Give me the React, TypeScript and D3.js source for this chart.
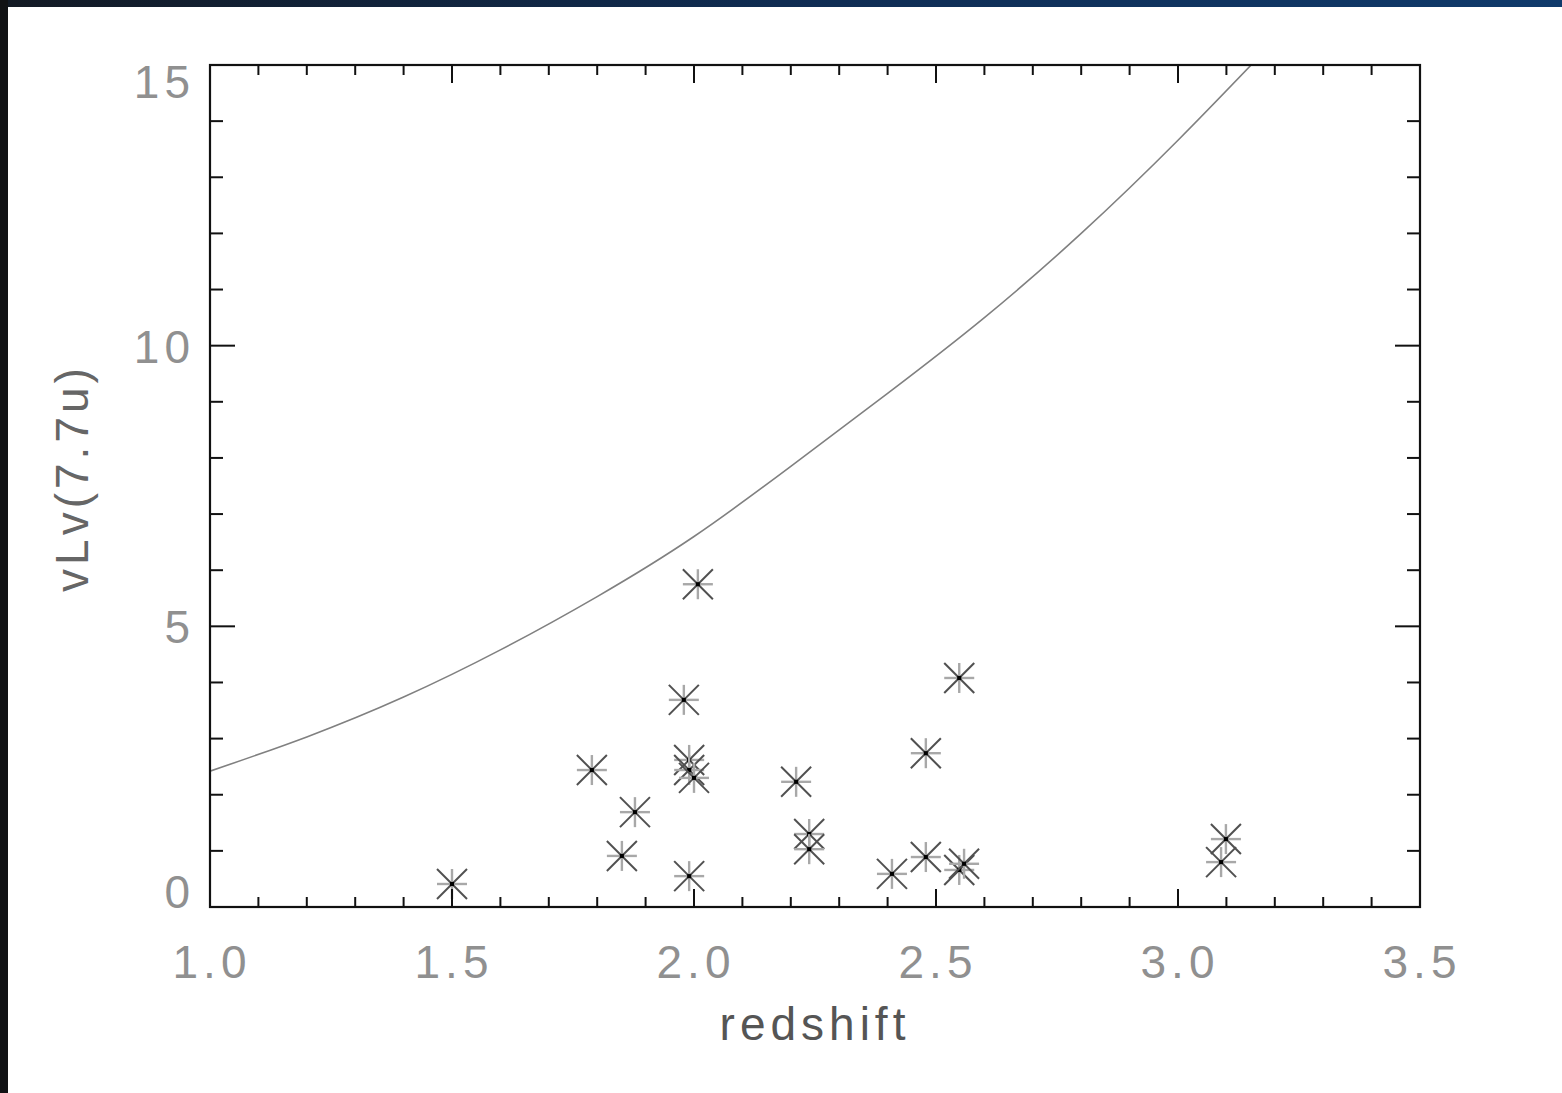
import React from "react";
import * as d3 from "d3";

// ---- data ----
const redshift = [1.5, 1.789, 1.851, 1.878, 1.979, 1.99, 1.99, 1.99, 2.0, 2.008, 2.211, 2.238, 2.238, 2.409, 2.479, 2.479, 2.548, 2.548, 2.558, 3.089, 3.099];
const lum77 = [0.41, 2.44, 0.91, 1.69, 3.69, 0.55, 2.62, 2.44, 2.3, 5.75, 2.23, 1.3, 1.03, 0.59, 2.74, 0.89, 4.08, 0.66, 0.77, 0.8, 1.21];

const curveZ = [1.0, 1.2, 1.4, 1.6, 1.8, 2.0, 2.2, 2.4, 2.6, 2.8, 3.0, 3.2];
const curveV = [2.42, 3.03, 3.74, 4.58, 5.53, 6.6, 7.85, 9.15, 10.5, 12.0, 13.66, 15.44];

const xTickLabels = ["1.0", "1.5", "2.0", "2.5", "3.0", "3.5"];
const yTickLabels = ["0", "5", "10", "15"];
const xTitle = "redshift";
const yTitle = "vLv(7.7u)";

const W = 1562;
const H = 1093;
const left = 210, right = 1420, top = 65, bottom = 907;

export default function App() {
  const x = d3.scaleLinear().domain([1.0, 3.5]).range([left, right]);
  const y = d3.scaleLinear().domain([0, 15]).range([bottom, top]);

  const xMajor = xTickLabels.map(Number);
  const xMinor = d3.range(10, 36).map((d) => d / 10).filter((d) => Math.abs(d * 2 - Math.round(d * 2)) > 1e-6);
  const yMajor = yTickLabels.map(Number);
  const yMinor = d3.range(0, 16).filter((d) => d % 5 !== 0);

  const line = d3
    .line<number>()
    .x((_, i) => x(curveZ[i]))
    .y((_, i) => y(curveV[i]))
    .curve(d3.curveNatural);

  const labelStyle: React.CSSProperties = {
    fontFamily: "'Liberation Sans', Arial, sans-serif",
    fontSize: 46,
    letterSpacing: 5,
  };

  const yLabelBaseline = (v: number) => {
    if (v === 15) return y(v) + 33;
    if (v === 0) return y(v) + 1;
    return y(v) + 17;
  };

  const s = 15;

  return (
    <svg width={W} height={H} style={{ position: "absolute", left: 0, top: 0, background: "#fff" }}>
      <defs>
        <linearGradient id="topband" x1="0" x2="1" y1="0" y2="0">
          <stop offset="0" stopColor="#131a24" />
          <stop offset="0.5" stopColor="#0f2c52" />
          <stop offset="1" stopColor="#0f3a6b" />
        </linearGradient>
        <clipPath id="plotclip">
          <rect x={left} y={top} width={right - left} height={bottom - top} />
        </clipPath>
      </defs>
      <rect x={0} y={0} width={W} height={H} fill="#fff" />
      <rect x={0} y={0} width={W} height={7} fill="url(#topband)" />
      <rect x={0} y={0} width={8} height={H} fill="#111214" />

      {/* curve */}
      <path d={line(curveZ) || ""} fill="none" stroke="#808080" strokeWidth={1.6} clipPath="url(#plotclip)" />

      {/* stars */}
      {redshift.map((z, i) => {
        const cx = x(z);
        const cy = y(lum77[i]);
        return (
          <g key={i}>
            <line x1={cx - s} y1={cy} x2={cx + s} y2={cy} stroke="#a8a8a8" strokeWidth={2.4} />
            <line x1={cx} y1={cy - s} x2={cx} y2={cy + s} stroke="#a8a8a8" strokeWidth={2.4} />
            <line x1={cx - s} y1={cy - s} x2={cx + s} y2={cy + s} stroke="#505050" strokeWidth={2} />
            <line x1={cx - s} y1={cy + s} x2={cx + s} y2={cy - s} stroke="#505050" strokeWidth={2} />
            <rect x={cx - 2} y={cy - 2} width={4} height={4} fill="#000" />
          </g>
        );
      })}

      {/* axes box */}
      <rect x={left} y={top} width={right - left} height={bottom - top} fill="none" stroke="#111" strokeWidth={2.2} />

      {/* x ticks */}
      {xMajor.map((v) => (
        <g key={"xM" + v}>
          <line x1={x(v)} x2={x(v)} y1={bottom} y2={bottom - 18} stroke="#111" strokeWidth={2} />
          <line x1={x(v)} x2={x(v)} y1={top} y2={top + 18} stroke="#111" strokeWidth={2} />
        </g>
      ))}
      {xMinor.map((v) => (
        <g key={"xm" + v}>
          <line x1={x(v)} x2={x(v)} y1={bottom} y2={bottom - 10} stroke="#111" strokeWidth={2} />
          <line x1={x(v)} x2={x(v)} y1={top} y2={top + 10} stroke="#111" strokeWidth={2} />
        </g>
      ))}
      {/* y ticks */}
      {yMajor.map((v) => (
        <g key={"yM" + v}>
          <line x1={left} x2={left + 25} y1={y(v)} y2={y(v)} stroke="#111" strokeWidth={2} />
          <line x1={right} x2={right - 25} y1={y(v)} y2={y(v)} stroke="#111" strokeWidth={2} />
        </g>
      ))}
      {yMinor.map((v) => (
        <g key={"ym" + v}>
          <line x1={left} x2={left + 13} y1={y(v)} y2={y(v)} stroke="#111" strokeWidth={2} />
          <line x1={right} x2={right - 13} y1={y(v)} y2={y(v)} stroke="#111" strokeWidth={2} />
        </g>
      ))}

      {/* tick labels */}
      {xTickLabels.map((t) => (
        <text key={"xl" + t} x={x(Number(t)) + 2} y={978} textAnchor="middle" fill="#909090" style={labelStyle}>
          {t}
        </text>
      ))}
      {yTickLabels.map((t) => (
        <text key={"yl" + t} x={195} y={yLabelBaseline(Number(t))} textAnchor="end" fill="#909090" style={labelStyle}>
          {t}
        </text>
      ))}

      {/* titles */}
      <text x={815} y={1040} textAnchor="middle" fill="#555" style={labelStyle}>
        {xTitle}
      </text>
      <text
        transform={`translate(88,${478}) rotate(-90)`}
        textAnchor="middle"
        fill="#666"
        style={{ ...labelStyle, letterSpacing: 4 }}
      >
        {yTitle}
      </text>
    </svg>
  );
}
